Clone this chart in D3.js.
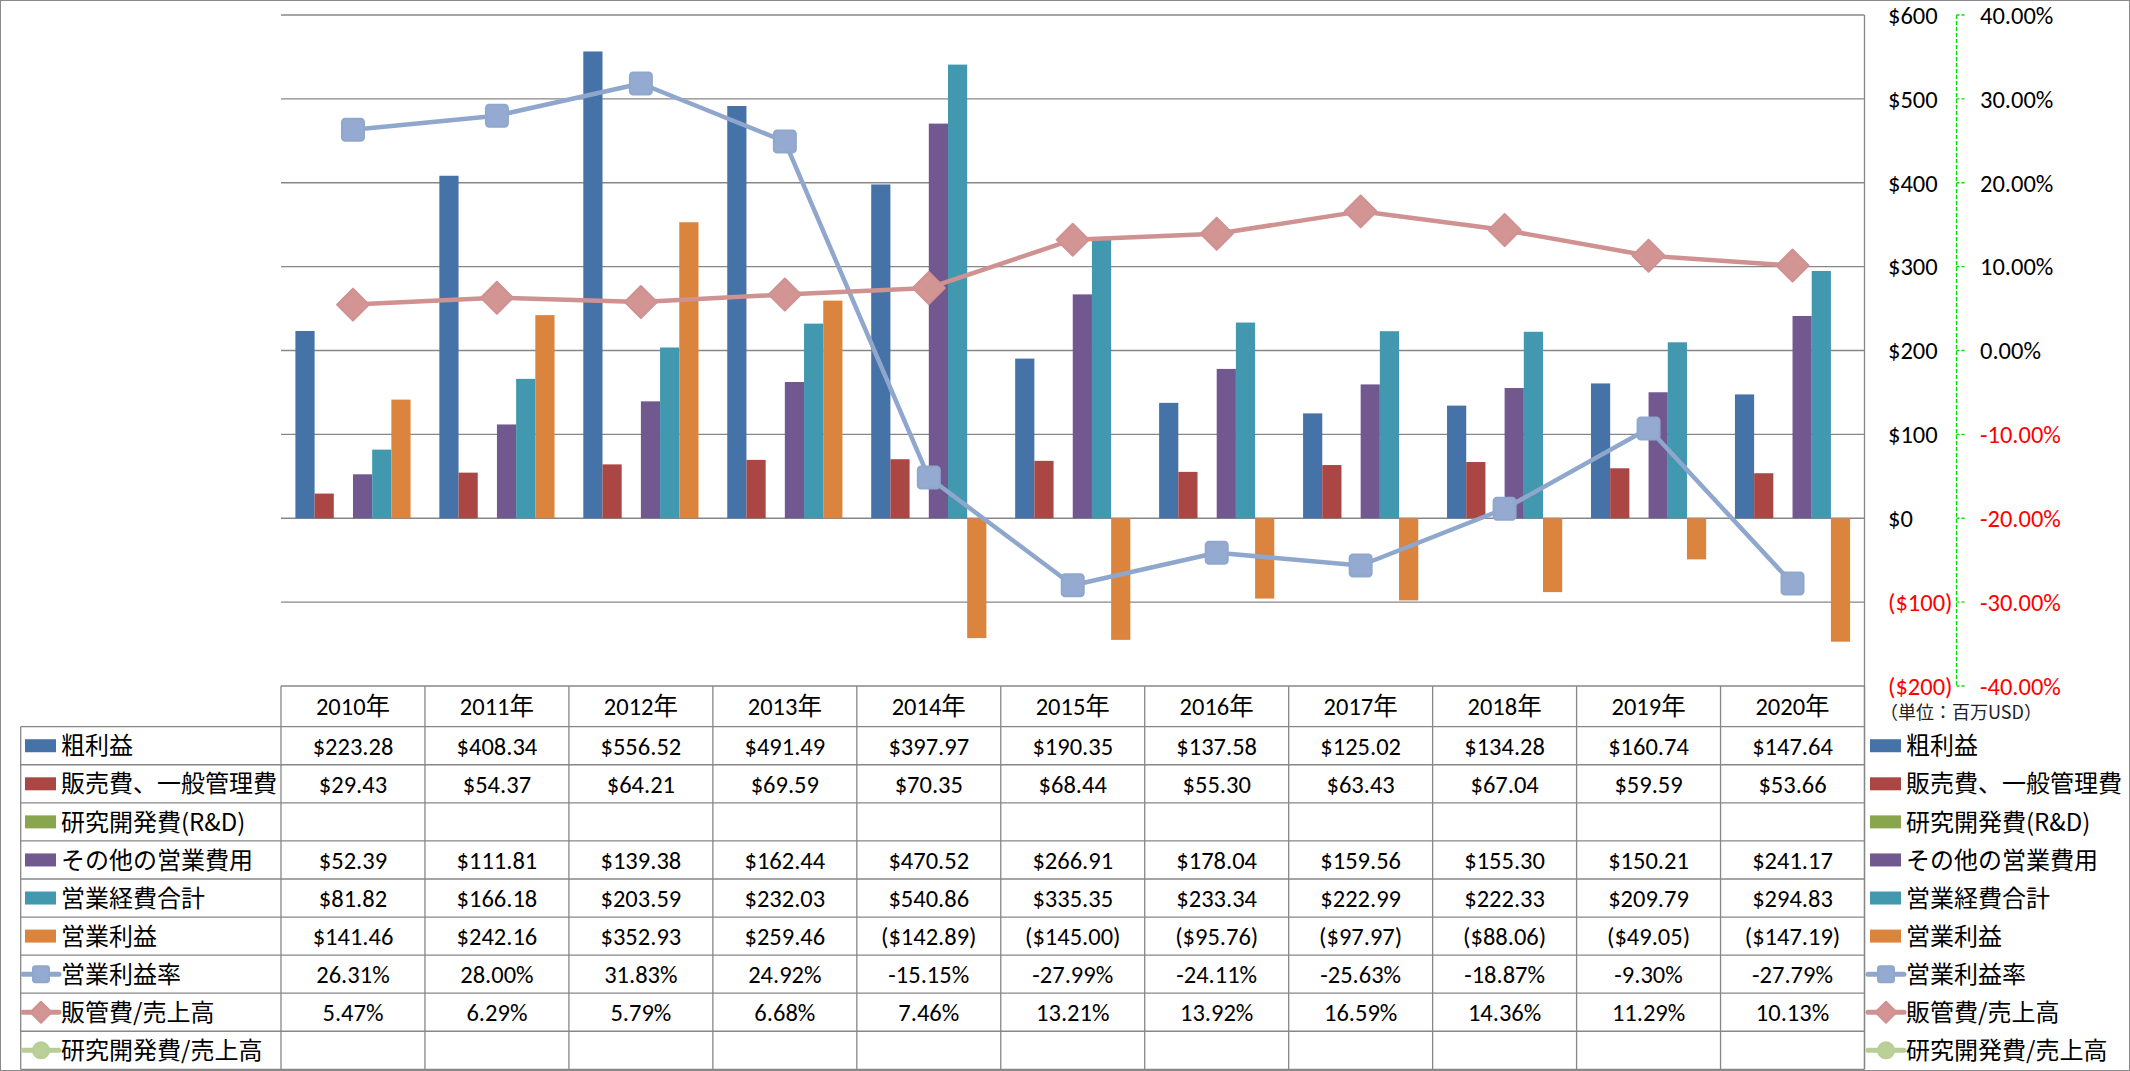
<!DOCTYPE html>
<html><head><meta charset="utf-8">
<script src="https://cdn.jsdelivr.net/npm/d3@7"></script>
<style>
html,body{margin:0;padding:0;background:#fff;}
svg{display:block;}
</style></head>
<body>
<svg id="chart" width="2130" height="1071"></svg>
<script>
// ---------- DATA ----------
const years = ["2010年","2011年","2012年","2013年","2014年","2015年","2016年","2017年","2018年","2019年","2020年"];
const grossProfit = [223.28,408.34,556.52,491.49,397.97,190.35,137.58,125.02,134.28,160.74,147.64];
const sga = [29.43,54.37,64.21,69.59,70.35,68.44,55.30,63.43,67.04,59.59,53.66];
const rnd = [null,null,null,null,null,null,null,null,null,null,null];
const otherOpex = [52.39,111.81,139.38,162.44,470.52,266.91,178.04,159.56,155.30,150.21,241.17];
const totalOpex = [81.82,166.18,203.59,232.03,540.86,335.35,233.34,222.99,222.33,209.79,294.83];
const operatingIncome = [141.46,242.16,352.93,259.46,-142.89,-145.00,-95.76,-97.97,-88.06,-49.05,-147.19];
const operatingMargin = [0.2631,0.2800,0.3183,0.2492,-0.1515,-0.2799,-0.2411,-0.2563,-0.1887,-0.0930,-0.2779];
const sgaRatio = [0.0547,0.0629,0.0579,0.0668,0.0746,0.1321,0.1392,0.1659,0.1436,0.1129,0.1013];
const rndRatio = [null,null,null,null,null,null,null,null,null,null,null];
const leftTicks = [-200,-100,0,100,200,300,400,500,600];
const rightTicks = [-0.4,-0.3,-0.2,-0.1,0,0.1,0.2,0.3,0.4];
const unitLabel = "（単位：百万USD）";

const barSeries = [
  {name:"粗利益", values:grossProfit, color:"#4572A7"},
  {name:"販売費、一般管理費", values:sga, color:"#AA4643"},
  {name:"研究開発費(R&D)", values:rnd, color:"#89A54E"},
  {name:"その他の営業費用", values:otherOpex, color:"#71588F"},
  {name:"営業経費合計", values:totalOpex, color:"#4198AF"},
  {name:"営業利益", values:operatingIncome, color:"#DB843D"}
];
const lineSeries = [
  {name:"営業利益率", values:operatingMargin, color:"#8FA7CD", fill:"#94AAD1", marker:"square"},
  {name:"販管費/売上高", values:sgaRatio, color:"#D09191", fill:"#D29594", marker:"diamond"},
  {name:"研究開発費/売上高", values:rndRatio, color:"#B9CD96", fill:"#BBCF98", marker:"circle"}
];

// ---------- LAYOUT ----------
const W=2130, H=1071;
const plotL=281, plotR=1864.5, plotT=15, plotB=686;
const headerB=726.7, rowH=38.07;
const legendL=20.7;
const LATIN = "Carlito, Lato, 'Noto Sans CJK JP', sans-serif";
const CJK = "'Noto Sans CJK JP', sans-serif";
const FS = 24.5;
const gridColor="#878787";

const svg = d3.select("#chart");
svg.append("rect").attr("x",0.5).attr("y",0.5).attr("width",W-1).attr("height",H-1)
  .attr("fill","#fff").attr("stroke","#8a8a8a").attr("stroke-width",1);

const x0 = d3.scaleBand().domain(years).range([plotL, plotR]).padding(0);
const bw = x0.bandwidth();
const x1 = d3.scaleBand().domain(barSeries.map(d=>d.name)).range([bw*0.1, bw*0.9]).padding(0);
const yL = d3.scaleLinear().domain([-200,600]).range([plotB, plotT]);
const yR = d3.scaleLinear().domain([-0.4,0.4]).range([plotB, plotT]);

// gridlines
svg.append("g").selectAll("line").data(leftTicks).join("line")
  .attr("x1",plotL).attr("x2",plotR)
  .attr("y1",d=>yL(d)).attr("y2",d=>yL(d))
  .attr("stroke",gridColor).attr("stroke-width",1.3);

// bars
const gBars = svg.append("g");
barSeries.forEach(s=>{
  gBars.append("g").selectAll("rect")
    .data(s.values.map((v,i)=>({v, year:years[i]})).filter(d=>d.v!=null))
    .join("rect")
    .attr("x",d=>x0(d.year)+x1(s.name))
    .attr("width",x1.bandwidth())
    .attr("y",d=>Math.min(yL(d.v),yL(0)))
    .attr("height",d=>Math.abs(yL(d.v)-yL(0)))
    .attr("fill",s.color);
});

// marker drawing helper
function drawMarker(g, type, cx, cy, size, fill, stroke){
  if(type==="square"){
    g.append("rect").attr("x",cx-size/2).attr("y",cy-size/2).attr("width",size).attr("height",size)
      .attr("rx",size*0.15).attr("fill",fill).attr("stroke",stroke).attr("stroke-width",2);
  } else if(type==="diamond"){
    const r=size/2;
    g.append("path").attr("d",`M${cx},${cy-r}L${cx+r},${cy}L${cx},${cy+r}L${cx-r},${cy}Z`)
      .attr("fill",fill).attr("stroke",stroke).attr("stroke-width",2).attr("stroke-linejoin","round");
  } else {
    g.append("circle").attr("cx",cx).attr("cy",cy).attr("r",size/2)
      .attr("fill",fill).attr("stroke",stroke).attr("stroke-width",2);
  }
}

// lines
const gLines = svg.append("g");
lineSeries.forEach(s=>{
  const pts = s.values.map((v,i)=>({v, year:years[i]})).filter(d=>d.v!=null);
  if(!pts.length) return;
  const line = d3.line().x(d=>x0(d.year)+bw/2).y(d=>yR(d.v));
  gLines.append("path").attr("d",line(pts)).attr("fill","none")
    .attr("stroke",s.color).attr("stroke-width",4.5).attr("stroke-linejoin","round").attr("stroke-linecap","round");
  const gm = gLines.append("g");
  pts.forEach(d=>{
    drawMarker(gm, s.marker, x0(d.year)+bw/2, yR(d.v), s.marker==="diamond"?32:22, s.fill, s.color);
  });
});

// right border of plot + table
svg.append("line").attr("x1",plotR).attr("x2",plotR).attr("y1",plotT).attr("y2",headerB+rowH*9)
  .attr("stroke",gridColor).attr("stroke-width",1.3);

// ---------- AXES (right side) ----------
const fmtMoney = v => v<0 ? "($"+Math.abs(v)+")" : "$"+v;
const axL = svg.append("g");
axL.selectAll("text").data(leftTicks).join("text")
  .attr("x",1888).attr("y",d=>yL(d)).attr("dy","0.36em")
  .attr("font-family",LATIN).attr("font-size",FS)
  .attr("fill",d=>d<0?"#FF0000":"#000")
  .text(fmtMoney);

const axisX = 1956.5;
svg.append("line").attr("x1",axisX).attr("x2",axisX).attr("y1",yR(0.4)).attr("y2",yR(-0.4))
  .attr("stroke","#00E000").attr("stroke-width",1.3).attr("stroke-dasharray","4,2");
svg.append("g").selectAll("line").data(rightTicks).join("line")
  .attr("x1",axisX).attr("x2",axisX+9).attr("y1",d=>yR(d)).attr("y2",d=>yR(d))
  .attr("stroke","#00E000").attr("stroke-width",1.3).attr("stroke-dasharray","3,2");
const fmtPct = v => d3.format(".2%")(v).replace("−","-");
svg.append("g").selectAll("text").data(rightTicks).join("text")
  .attr("x",1980).attr("y",d=>yR(d)).attr("dy","0.36em")
  .attr("font-family",LATIN).attr("font-size",FS)
  .attr("fill",d=>d<0?"#FF0000":"#000")
  .text(fmtPct);

svg.append("text").attr("x",1880).attr("y",713).attr("dy","0.36em")
  .attr("font-family",CJK).attr("font-size",18).attr("fill","#222").text(unitLabel);

// ---------- DATA TABLE ----------
const allSeries = [...barSeries.map(s=>({...s,kind:"bar"})), ...lineSeries.map(s=>({...s,kind:"line"}))];
const tbl = svg.append("g");
const tableBottom = headerB + rowH*allSeries.length;
const bounds = years.map(y=>x0(y)).concat([plotR]);
tbl.selectAll("line.v").data(bounds).join("line").attr("class","v")
  .attr("x1",d=>d).attr("x2",d=>d).attr("y1",plotB).attr("y2",tableBottom)
  .attr("stroke",gridColor).attr("stroke-width",1.3);
tbl.append("line").attr("x1",legendL).attr("x2",legendL).attr("y1",headerB).attr("y2",tableBottom)
  .attr("stroke",gridColor).attr("stroke-width",1.3);
const hLines = d3.range(allSeries.length+1).map(i=>headerB+rowH*i);
tbl.selectAll("line.h").data(hLines).join("line").attr("class","h")
  .attr("x1",legendL).attr("x2",plotR).attr("y1",d=>d).attr("y2",d=>d)
  .attr("stroke",gridColor).attr("stroke-width",1.3);
tbl.selectAll("text.yr").data(years).join("text").attr("class","yr")
  .attr("x",d=>x0(d)+bw/2).attr("y",(plotB+headerB)/2).attr("dy","0.36em")
  .attr("text-anchor","middle").attr("font-family",LATIN).attr("font-size",FS).attr("fill","#000")
  .text(d=>d);

const fmtCell = (s,v) => v==null ? "" : (s.kind==="bar" ? (v<0?"($"+d3.format(",.2f")(-v)+")":"$"+d3.format(",.2f")(v)) : fmtPct(v));

function legendKey(g, s, x, cy){
  if(s.kind==="bar"){
    g.append("rect").attr("x",x).attr("y",cy-6.5).attr("width",31).attr("height",13).attr("fill",s.color);
  } else {
    g.append("line").attr("x1",x-2).attr("x2",x+34).attr("y1",cy).attr("y2",cy)
      .attr("stroke",s.color).attr("stroke-width",5).attr("stroke-linecap","round");
    drawMarker(g, s.marker, x+16, cy, s.marker==="diamond"?21:16, s.fill, s.color);
  }
}

allSeries.forEach((s,r)=>{
  const cy = headerB + rowH*(r+0.5);
  legendKey(tbl, s, 25, cy);
  tbl.append("text").attr("x",61).attr("y",cy).attr("dy","0.36em")
    .attr("font-family",CJK).attr("font-size",24).attr("fill","#000").text(s.name);
  legendKey(tbl, s, 1870, cy);
  tbl.append("text").attr("x",1906).attr("y",cy).attr("dy","0.36em")
    .attr("font-family",CJK).attr("font-size",24).attr("fill","#000").text(s.name);
  s.values.forEach((v,i)=>{
    tbl.append("text").attr("x",x0(years[i])+bw/2).attr("y",cy).attr("dy","0.36em")
      .attr("text-anchor","middle").attr("font-family",LATIN).attr("font-size",FS).attr("fill","#000")
      .text(fmtCell(s,v));
  });
});
</script>
</body></html>
